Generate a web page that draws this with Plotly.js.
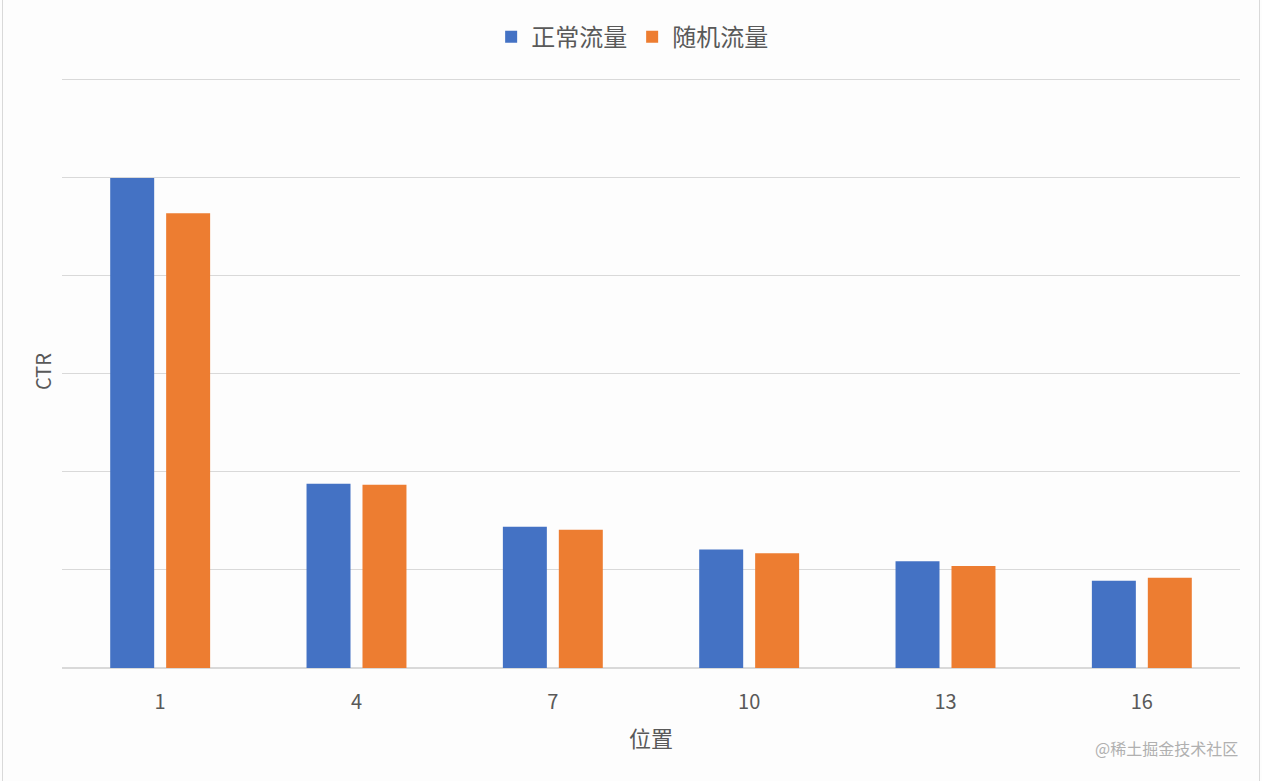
<!DOCTYPE html>
<html>
<head>
<meta charset="utf-8">
<script src="https://cdn.plot.ly/plotly-3.0.1.min.js"></script>
<style>
  body { margin: 0; background: #fdfdfd; }
  #chart { position: absolute; left: 0; top: 0; width: 1262px; height: 781px; }
  #frame { position: absolute; left: 2px; top: 0; width: 1256px; height: 781px;
    border-left: 1px solid #d9d9d9; border-right: 1px solid #d9d9d9; pointer-events: none; }
</style>
</head>
<body>
<div id="chart"></div>
<div id="frame"></div>
<script>
// positions shown on the x axis
const positions = ['1', '4', '7', '10', '13', '16']
// CTR, in gridline units (axis has no labels)
const normalTraffic = [5.0, 1.88, 1.44, 1.21, 1.09, 0.89]
const randomTraffic = [4.64, 1.87, 1.41, 1.17, 1.04, 0.92]

const font = 'Noto Sans CJK SC, Noto Sans, sans-serif'

Plotly.newPlot('chart', [
  {
    name: '正常流量',
    type: 'bar',
    x: positions,
    y: normalTraffic,
    marker: { color: '#4472C4' }
  },
  {
    name: '随机流量',
    type: 'bar',
    x: positions,
    y: randomTraffic,
    marker: { color: '#ED7D31' }
  }
], {
  width: 1262,
  height: 781,
  margin: { l: 62, r: 22, t: 75, b: 113 },
  paper_bgcolor: '#fdfdfd',
  plot_bgcolor: '#fdfdfd',
  font: { family: font, color: '#595959' },
  barmode: 'group',
  bargap: 0.43,
  bargroupgap: 0.214,
  showlegend: true,
  legend: {
    orientation: 'h',
    x: 0.484,
    xanchor: 'center',
    y: 1.064,
    yanchor: 'middle',
    yref: 'paper',
    font: { size: 24, color: '#595959' },
    itemwidth: 30
  },
  xaxis: {
    type: 'category',
    tickfont: { size: 20, color: '#595959' },
    ticks: 'outside',
    ticklen: 16,
    tickcolor: 'rgba(0,0,0,0)',
    showgrid: false,
    showline: false,
    title: { text: '位置', font: { size: 22, color: '#595959' }, standoff: 17 }
  },
  yaxis: {
    range: [0, 6.05],
    dtick: 1,
    showticklabels: false,
    gridcolor: '#d9d9d9',
    gridwidth: 1.3,
    zeroline: true,
    zerolinecolor: '#d9d9d9',
    zerolinewidth: 1.5,
    title: { text: 'CTR', font: { size: 20, color: '#595959' }, standoff: 4 }
  },
  annotations: [
    {
      text: '@稀土掘金技术社区',
      xref: 'paper',
      yref: 'paper',
      x: 1.0,
      y: -0.135,
      xanchor: 'right',
      yanchor: 'middle',
      showarrow: false,
      font: { size: 16, color: '#b0b0b0', family: font }
    }
  ]
}, { displayModeBar: false })
</script>
</body>
</html>
